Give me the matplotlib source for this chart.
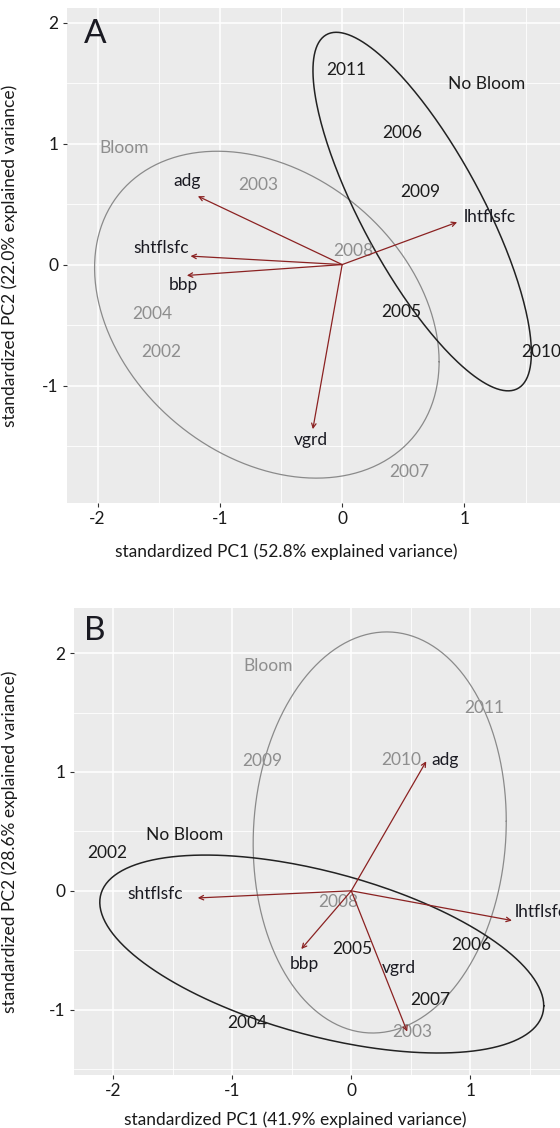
import numpy as np
import matplotlib.pyplot as plt
from matplotlib.ticker import MultipleLocator

plt.rcParams['font.family'] = ['Lato', 'DejaVu Sans']
plt.rcParams['axes.unicode_minus'] = False

# ---- panel A: scores (year labels) ----
years_a = ["2002", "2003", "2004", "2007", "2008",
           "2005", "2006", "2009", "2010", "2011"]
groups_a = ["Bloom"] * 5 + ["No Bloom"] * 5
pc1_a = [-1.48, -0.69, -1.55, 0.55, 0.09, 0.48, 0.49, 0.64, 1.63, 0.03]
pc2_a = [-0.72, 0.66, -0.41, -1.71, 0.11, -0.39, 1.09, 0.60, -0.72, 1.61]

# panel A: loadings (arrows) and where their names sit
vars_a = ["adg", "shtflsfc", "bbp", "lhtflsfc", "vgrd"]
load1_a = [-1.18, -1.24, -1.27, 0.94, -0.24]
load2_a = [0.565, 0.07, -0.09, 0.35, -1.36]
varlab1_a = [-1.27, -1.48, -1.30, 1.21, -0.26]
varlab2_a = [0.69, 0.14, -0.165, 0.39, -1.45]

grouplab_names = ["Bloom", "No Bloom"]
grouplab1_a = [-1.78, 1.18]
grouplab2_a = [0.96, 1.49]

# ---- panel B ----
years_b = ["2003", "2008", "2009", "2010", "2011",
           "2002", "2004", "2005", "2006", "2007"]
groups_b = ["Bloom"] * 5 + ["No Bloom"] * 5
pc1_b = [0.515, -0.11, -0.75, 0.42, 1.12, -2.05, -0.87, 0.01, 1.01, 0.66]
pc2_b = [-1.19, -0.09, 1.095, 1.10, 1.54, 0.32, -1.11, -0.49, -0.46, -0.92]

vars_b = ["adg", "shtflsfc", "bbp", "lhtflsfc", "vgrd"]
load1_b = [0.63, -1.29, -0.42, 1.35, 0.47]
load2_b = [1.09, -0.06, -0.49, -0.25, -1.185]
varlab1_b = [0.79, -1.65, -0.39, 1.59, 0.40]
varlab2_b = [1.10, -0.03, -0.615, -0.18, -0.65]

grouplab1_b = [-0.70, -1.40]
grouplab2_b = [1.89, 0.47]

colors = {"Bloom": "#8e8e8e", "No Bloom": "#1c1c1c"}
line_colors = {"Bloom": "#8a8a8a", "No Bloom": "#222222"}

FS = 12.5


def ellipse(x, y, prob=0.68, n=300):
    # same recipe as ggbiplot: normal-theory ellipse from group covariance
    pts = np.column_stack([x, y])
    mu = pts.mean(axis=0)
    sigma = np.cov(pts, rowvar=False)
    ed = np.sqrt(-2 * np.log(1 - prob))
    t = np.linspace(0, 2 * np.pi, n)
    circle = np.column_stack([np.cos(t), np.sin(t)])
    return circle @ np.linalg.cholesky(sigma).T * ed + mu


def biplot(ax, years, groups, pc1, pc2, names, l1, l2, vl1, vl2, gl1, gl2,
           xlabel, ylabel):
    ax.set_facecolor("#EBEBEB")
    for s in ax.spines.values():
        s.set_visible(False)
    ax.xaxis.set_major_locator(MultipleLocator(1))
    ax.yaxis.set_major_locator(MultipleLocator(1))
    ax.xaxis.set_minor_locator(MultipleLocator(0.5))
    ax.yaxis.set_minor_locator(MultipleLocator(0.5))
    ax.grid(which="major", color="white", lw=1.1)
    ax.grid(which="minor", color="white", lw=0.6)
    ax.set_axisbelow(True)
    ax.tick_params(which="major", length=3, width=0.8, color="#333333",
                   labelsize=FS, labelcolor="#1a1a1a", pad=3)
    ax.tick_params(which="minor", length=0)

    g = np.array(groups)
    x = np.array(pc1)
    y = np.array(pc2)
    for grp, lw in [("Bloom", 0.9), ("No Bloom", 1.1)]:
        e = ellipse(x[g == grp], y[g == grp])
        ax.plot(e[:, 0], e[:, 1], color=line_colors[grp], lw=lw, zorder=2)

    for yr, grp, px, py in zip(years, groups, pc1, pc2):
        ax.text(px, py, yr, ha="center", va="center", fontsize=FS,
                color=colors[grp], zorder=3)

    for nm, tx, ty, lx, ly in zip(names, l1, l2, vl1, vl2):
        ax.annotate("", xy=(tx, ty), xytext=(0, 0),
                    arrowprops=dict(arrowstyle="->", color="#8b2222", lw=0.9,
                                    mutation_scale=8, shrinkA=0, shrinkB=0),
                    zorder=4)
        ax.text(lx, ly, nm, ha="center", va="center", fontsize=FS,
                color="#1a1a22", zorder=5)

    for nm, gx, gy in zip(grouplab_names, gl1, gl2):
        ax.text(gx, gy, nm, ha="center", va="center", fontsize=FS,
                color=colors[nm], zorder=3)

    ax.set_xlabel(xlabel, fontsize=FS, color="#1a1a1a")
    ax.set_ylabel(ylabel, fontsize=FS, color="#1a1a1a")


fig = plt.figure(figsize=(5.6, 11.28), dpi=100)
W, H = 560, 1128

# panel A (axes run past the right edge, as in the cropped original)
xa, ya = (-2.25, 1.9), (-1.97, 2.12)
ax1 = fig.add_axes([67 / W, (H - 503) / H,
                    (xa[1] - xa[0]) * 122.3 / W, 495 / H])
ax1.set_xlim(*xa)
ax1.set_ylim(*ya)
biplot(ax1, years_a, groups_a, pc1_a, pc2_a, vars_a, load1_a, load2_a,
       varlab1_a, varlab2_a, grouplab1_a, grouplab2_a,
       "standardized PC1 (52.8% explained variance)",
       "standardized PC2 (22.0% explained variance)")
w1 = (xa[1] - xa[0]) * 122.3
ax1.xaxis.set_label_coords((286 - 67) / w1, -40 / 495)
ax1.yaxis.set_label_coords((18 - 67) / w1, 0.5)

# panel B
xb, yb = (-2.33, 1.9), (-1.55, 2.38)
ax2 = fig.add_axes([74 / W, (H - 1075) / H,
                    (xb[1] - xb[0]) * 119 / W, 467 / H])
ax2.set_xlim(*xb)
ax2.set_ylim(*yb)
biplot(ax2, years_b, groups_b, pc1_b, pc2_b, vars_b, load1_b, load2_b,
       varlab1_b, varlab2_b, grouplab1_b, grouplab2_b,
       "standardized PC1 (41.9% explained variance)",
       "standardized PC2 (28.6% explained variance)")
w2 = (xb[1] - xb[0]) * 119
ax2.xaxis.set_label_coords((295 - 74) / w2, -36 / 467)
ax2.yaxis.set_label_coords((18 - 74) / w2, 0.5)

fig.text(84 / W, 1 - 19 / H, "A", fontsize=24, va="top", ha="left",
         color="#1a1a22")
fig.text(84 / W, 1 - 616 / H, "B", fontsize=24, va="top", ha="left",
         color="#1a1a22")

fig.savefig("out.png", dpi=100)
